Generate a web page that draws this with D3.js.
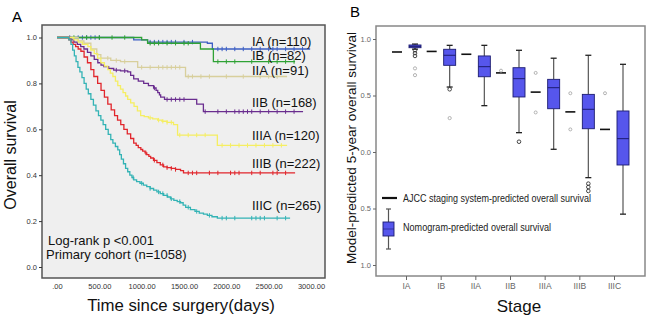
<!DOCTYPE html>
<html><head><meta charset="utf-8">
<script src="https://cdn.jsdelivr.net/npm/d3@7"></script>
<style>
body{margin:0;background:#fff;}
svg{display:block;font-family:"Liberation Sans",Arial,sans-serif;}
</style></head>
<body><svg id="c" width="648" height="319"></svg>
<script>
// ---------- Panel A data: Kaplan-Meier curves [days, survival] ----------
const kmStages = ["IA (n=110)","IB (n=82)","IIA (n=91)","IIB (n=168)","IIIA (n=120)","IIIB (n=222)","IIIC (n=265)"];
const kmColors = ["#3d5fc4","#2fa235","#d8cf9c","#6a2d8f","#f5ee62","#e1262c","#33b3b5"];
const kmIA = [[0,1],[906,0.99],[1070,0.98],[1776,0.975],[1835,0.95],[2990,0.95]];
const kmIB = [[0,1],[988,1],[1000,0.99],[1070,0.975],[1694,0.95],[1847,0.895],[2812,0.895]];
const kmIIA = [[0,1],[150,1],[250,0.985],[318,0.975],[400,0.95],[470,0.925],[518,0.91],[635,0.9],[750,0.895],[953,0.87],[1518,0.83],[2718,0.83]];
const kmIIB = [[0,1],[100,1],[165,0.99],[200,0.98],[240,0.97],[280,0.96],[318,0.95],[360,0.935],[400,0.92],[440,0.905],[482,0.89],[520,0.88],[553,0.873],[610,0.865],[670,0.858],[750,0.855],[835,0.85],[870,0.835],[906,0.82],[960,0.81],[1024,0.8],[1080,0.79],[1141,0.78],[1170,0.77],[1190,0.76],[1210,0.75],[1224,0.74],[1270,0.73],[1576,0.73],[1650,0.71],[1729,0.677],[2906,0.677]];
const kmIIIA = [[0,1],[150,1],[200,0.99],[250,0.98],[300,0.97],[365,0.96],[400,0.945],[440,0.93],[480,0.91],[518,0.89],[560,0.875],[600,0.86],[630,0.845],[660,0.83],[690,0.81],[718,0.79],[750,0.775],[780,0.76],[810,0.745],[835,0.73],[870,0.715],[910,0.7],[950,0.68],[988,0.66],[1030,0.655],[1080,0.65],[1130,0.645],[1188,0.64],[1240,0.635],[1300,0.63],[1376,0.62],[1424,0.575],[1847,0.575],[1894,0.53],[2718,0.53]];
const kmIIIB = [[0,1],[120,1],[140,0.99],[165,0.98],[190,0.97],[220,0.96],[250,0.95],[282,0.94],[320,0.915],[360,0.89],[400,0.86],[435,0.83],[480,0.8],[520,0.77],[560,0.74],[600,0.71],[640,0.685],[680,0.66],[715,0.64],[753,0.62],[790,0.6],[830,0.58],[870,0.56],[906,0.54],[935,0.53],[960,0.52],[990,0.512],[1012,0.505],[1040,0.497],[1060,0.49],[1085,0.482],[1106,0.475],[1140,0.465],[1180,0.455],[1220,0.445],[1259,0.436],[1300,0.433],[1350,0.43],[1400,0.425],[1459,0.42],[1494,0.41],[2812,0.41]];
const kmIIIC = [[0,1],[120,1],[140,0.99],[165,0.97],[185,0.945],[205,0.92],[225,0.895],[247,0.87],[270,0.85],[295,0.825],[320,0.8],[345,0.775],[370,0.755],[400,0.73],[430,0.705],[460,0.68],[490,0.66],[518,0.64],[545,0.62],[575,0.6],[605,0.578],[635,0.555],[660,0.54],[690,0.525],[718,0.51],[740,0.49],[760,0.47],[785,0.45],[810,0.43],[835,0.415],[860,0.4],[885,0.39],[906,0.38],[940,0.372],[980,0.365],[1020,0.357],[1060,0.35],[1100,0.342],[1141,0.335],[1180,0.327],[1220,0.32],[1260,0.312],[1306,0.305],[1340,0.297],[1380,0.29],[1420,0.285],[1459,0.28],[1490,0.27],[1520,0.26],[1576,0.25],[1630,0.242],[1680,0.235],[1730,0.23],[1776,0.225],[1830,0.219],[1894,0.213],[2753,0.213]];
const censIA = [150,250,300,350,400,450,500,1100,1150,1200,1250,1300,1350,1400,1500,1600,1900,1950,2000,2100,2200,2300,2400,2500,2550,2600,2700,2800,2900];
const censIB = [200,350,500,650,800,1100,1150,1200,1300,1400,1500,1550,1900,2000,2100,2300,2500,2600,2700,2800];
const censIIA = [600,700,800,1000,1100,1200,1250,1300,1350,1400,1450,1550,1600,1700,1800,2000,2200,2400,2500,2600];
const censIIB = [700,800,1150,1300,1350,1400,1450,1500,1750,1900,2000,2100,2150,2200,2250,2300,2400,2500,2600,2700,2800];
const censIIIA = [1100,1200,1250,1300,1350,1450,1550,1650,1750,1950,2050,2150,2250,2350,2450,2550,2650];
const censIIIB = [1050,1150,1250,1300,1350,1400,1550,1600,1650,1800,1900,2050,2100,2150,2300,2400,2550,2600,2700];
const censIIIC = [900,1000,1100,1200,1250,1300,1350,1450,1550,1650,1800,1950,2000,2100,2300,2350,2400,2450,2600,2700];
const kmXTicks = [0,500,1000,1500,2000,2500,3000];
const kmXLabels = [".00","500.00","1000.00","1500.00","2000.00","2500.00","3000.00"];
const kmYTicks = [0,0.2,0.4,0.6,0.8,1.0];

// ---------- Panel B data ----------
const stages = ["IA","IB","IIA","IIB","IIIA","IIIB","IIIC"];
const ajcc = [0.885,0.89,0.865,0.70,0.53,0.355,0.20];
const nomoLow = [0.91,0.575,0.41,0.171,0.024,-0.227,-0.55];
const nomoQ1 = [0.923,0.767,0.666,0.487,0.383,0.206,-0.115];
const nomoMed = [0.935,0.856,0.755,0.649,0.569,0.378,0.118];
const nomoQ3 = [0.947,0.909,0.85,0.746,0.643,0.51,0.363];
const nomoHigh = [0.955,0.944,0.944,0.90,0.83,0.856,0.776];
const nomoOutStage = ["IA","IA","IA","IB","IIB","IIIB","IIIB","IIIB"];
const nomoOutVal = [0.90,0.875,0.85,0.555,0.091,-0.28,-0.31,-0.345];
const farOutStage = ["IA","IA","IB"];
const farOutVal = [0.74,0.68,0.30];
const ajccOutStage = ["IIB","IIIA","IIIA","IIIB","IIIB","IIIC"];
const ajccOutVal = [0.72,0.70,0.35,0.52,0.20,0.52];
const bYTicks = [1,0.5,0,-0.5,-1];
const bYLabels = ["1.0","0.5","0.0","0.5","1.0"];

const svg = d3.select("#c");
const tickFont = "Liberation Sans Narrow, Liberation Sans, Arial";

// ================= Panel A =================
const A = {l:42,r:325,t:25,b:278};
const xA = d3.scaleLinear().domain([0,3000]).range([57,311]);
const yA = d3.scaleLinear().domain([0,1]).range([267,37.5]);
svg.append("rect").attr("x",A.l).attr("y",A.t).attr("width",A.r-A.l).attr("height",A.b-A.t)
  .attr("fill","#efefef").attr("stroke","#555").attr("stroke-width",1.5);
svg.append("text").attr("x",12).attr("y",22).attr("font-size",15).text("A");

const yAxA = svg.append("g").attr("transform",`translate(${A.l},0)`)
  .call(d3.axisLeft(yA).tickValues(kmYTicks).tickFormat(d3.format(".1f")).tickSize(3).tickPadding(2));
yAxA.select(".domain").remove();
yAxA.selectAll("text").attr("font-size",7.5).attr("fill","#333").attr("font-family",tickFont);
yAxA.selectAll("line").attr("stroke","#333");
const xAxA = svg.append("g").attr("transform",`translate(0,${A.b})`)
  .call(d3.axisBottom(xA).tickValues(kmXTicks).tickFormat((d,i)=>kmXLabels[i]).tickSize(0).tickPadding(6));
xAxA.select(".domain").remove();
xAxA.selectAll("text").attr("font-size",7.5).attr("fill","#333").attr("font-family",tickFont);

const kmData = [kmIA,kmIB,kmIIA,kmIIB,kmIIIA,kmIIIB,kmIIIC];
const censData = [censIA,censIB,censIIA,censIIB,censIIIA,censIIIB,censIIIC];
const line = d3.line().x(d=>xA(d[0])).y(d=>yA(d[1])).curve(d3.curveStepAfter);
function survAt(km,t){let s=km[0][1];for(const p of km){if(p[0]<=t)s=p[1];}return s;}
kmData.forEach((km,i)=>{
  const g = svg.append("g");
  g.append("path").attr("d",line(km)).attr("fill","none").attr("stroke",kmColors[i]).attr("stroke-width",1.3);
  g.selectAll("line").data(censData[i]).join("line")
    .attr("x1",d=>xA(d)).attr("x2",d=>xA(d))
    .attr("y1",d=>yA(survAt(km,d))-2.2).attr("y2",d=>yA(survAt(km,d))+2.2)
    .attr("stroke",kmColors[i]).attr("stroke-width",1);
});
const kmLabelY = [46,60,75,107,140,168,210];
svg.selectAll("text.kml").data(kmStages).join("text").attr("class","kml")
  .attr("x",252).attr("y",(d,i)=>kmLabelY[i]).attr("font-size",13).attr("fill","#111").text(d=>d);
svg.append("text").attr("x",48).attr("y",245).attr("font-size",13).attr("fill","#111").text("Log-rank p <0.001");
svg.append("text").attr("x",46).attr("y",259).attr("font-size",13).attr("fill","#111").text("Primary cohort (n=1058)");
svg.append("text").attr("x",181).attr("y",311).attr("text-anchor","middle").attr("font-size",16.8).attr("fill","#111").text("Time since surgery(days)");
svg.append("text").attr("transform","translate(16,155) rotate(-90)").attr("text-anchor","middle").attr("font-size",16).attr("fill","#111").text("Overall survival");

// ================= Panel B =================
const B = {l:376,r:645,t:26,b:276};
const xB = d3.scalePoint().domain(stages).range([406,614]);
const yB = d3.scaleLinear().domain([-1,1]).range([265,39]);
svg.append("rect").attr("x",B.l).attr("y",B.t).attr("width",B.r-B.l).attr("height",B.b-B.t)
  .attr("fill","#fff").attr("stroke","#888").attr("stroke-width",1.5);
svg.append("text").attr("x",350).attr("y",17).attr("font-size",15).text("B");

const yAxB = svg.append("g").attr("transform",`translate(${B.l},0)`)
  .call(d3.axisLeft(yB).tickValues(bYTicks).tickFormat((d,i)=>bYLabels[i]).tickSize(3).tickPadding(2));
yAxB.select(".domain").remove();
yAxB.selectAll("text").attr("font-size",7.5).attr("fill","#666").attr("font-family",tickFont);
yAxB.selectAll("line").attr("stroke","#666");
const xAxB = svg.append("g").attr("transform",`translate(0,${B.b})`)
  .call(d3.axisBottom(xB).tickSize(4).tickPadding(3));
xAxB.select(".domain").remove();
xAxB.selectAll("text").attr("font-size",8.5).attr("fill","#666").attr("font-family",tickFont);
xAxB.selectAll("line").attr("stroke","#666");

const off = 9, bw = 12, aw = 10, cw = 6;
const boxFill = "#5656ec", boxStroke = "#1c1c70";
stages.forEach((s,i)=>{
  const cx = xB(s);
  svg.append("line").attr("x1",cx-off-aw/2).attr("x2",cx-off+aw/2).attr("y1",yB(ajcc[i])).attr("y2",yB(ajcc[i]))
    .attr("stroke","#111").attr("stroke-width",1.6);
  const bx = cx+off;
  svg.append("line").attr("x1",bx).attr("x2",bx).attr("y1",yB(nomoHigh[i])).attr("y2",yB(nomoQ3[i])).attr("stroke","#555").attr("stroke-width",1.2);
  svg.append("line").attr("x1",bx).attr("x2",bx).attr("y1",yB(nomoQ1[i])).attr("y2",yB(nomoLow[i])).attr("stroke","#555").attr("stroke-width",1.2);
  [nomoHigh[i],nomoLow[i]].forEach(v=>svg.append("line").attr("x1",bx-cw/2).attr("x2",bx+cw/2).attr("y1",yB(v)).attr("y2",yB(v)).attr("stroke","#222").attr("stroke-width",1.3));
  svg.append("rect").attr("x",bx-bw/2).attr("y",yB(nomoQ3[i])).attr("width",bw).attr("height",Math.max(1,yB(nomoQ1[i])-yB(nomoQ3[i])))
    .attr("fill",boxFill).attr("stroke",boxStroke).attr("stroke-width",0.9);
  svg.append("line").attr("x1",bx-bw/2).attr("x2",bx+bw/2).attr("y1",yB(nomoMed[i])).attr("y2",yB(nomoMed[i])).attr("stroke",boxStroke).attr("stroke-width",1);
});
svg.selectAll("circle.o1").data(nomoOutVal).join("circle").attr("class","o1")
  .attr("cx",(d,i)=>xB(nomoOutStage[i])+off).attr("cy",d=>yB(d)).attr("r",1.8).attr("fill","none").attr("stroke","#333").attr("stroke-width",0.9);
svg.selectAll("circle.o2").data(farOutVal).join("circle").attr("class","o2")
  .attr("cx",(d,i)=>xB(farOutStage[i])+off).attr("cy",d=>yB(d)).attr("r",1.6).attr("fill","none").attr("stroke","#aaa").attr("stroke-width",0.9);
svg.selectAll("circle.o3").data(ajccOutVal).join("circle").attr("class","o3")
  .attr("cx",(d,i)=>xB(ajccOutStage[i])-off).attr("cy",d=>yB(d)).attr("r",1.5).attr("fill","none").attr("stroke","#aaa").attr("stroke-width",0.9);

// legend
svg.append("line").attr("x1",382).attr("x2",397).attr("y1",198).attr("y2",198).attr("stroke","#111").attr("stroke-width",2.2);
svg.append("text").attr("x",403).attr("y",201.5).attr("font-size",10.5).attr("fill","#222")
  .attr("textLength",188).attr("lengthAdjust","spacingAndGlyphs").text("AJCC staging system-predicted overall survival");
svg.append("line").attr("x1",388.5).attr("x2",388.5).attr("y1",209).attr("y2",249).attr("stroke","#555").attr("stroke-width",1.2);
[209,249].forEach(y=>svg.append("line").attr("x1",386).attr("x2",391).attr("y1",y).attr("y2",y).attr("stroke","#555").attr("stroke-width",1.2));
svg.append("rect").attr("x",383).attr("y",222).attr("width",11).attr("height",14).attr("fill",boxFill).attr("stroke",boxStroke).attr("stroke-width",0.9);
svg.append("line").attr("x1",383).attr("x2",394).attr("y1",229).attr("y2",229).attr("stroke",boxStroke).attr("stroke-width",0.6);
svg.append("text").attr("x",403).attr("y",231).attr("font-size",10.5).attr("fill","#222")
  .attr("textLength",148).attr("lengthAdjust","spacingAndGlyphs").text("Nomogram-predicted overall survival");

svg.append("text").attr("x",519).attr("y",312).attr("text-anchor","middle").attr("font-size",17).attr("fill","#111").text("Stage");
svg.append("text").attr("transform","translate(356,148) rotate(-90)").attr("text-anchor","middle").attr("font-size",13.5).attr("fill","#111").text("Model-predicted 5-year overall survival");
</script></body></html>
